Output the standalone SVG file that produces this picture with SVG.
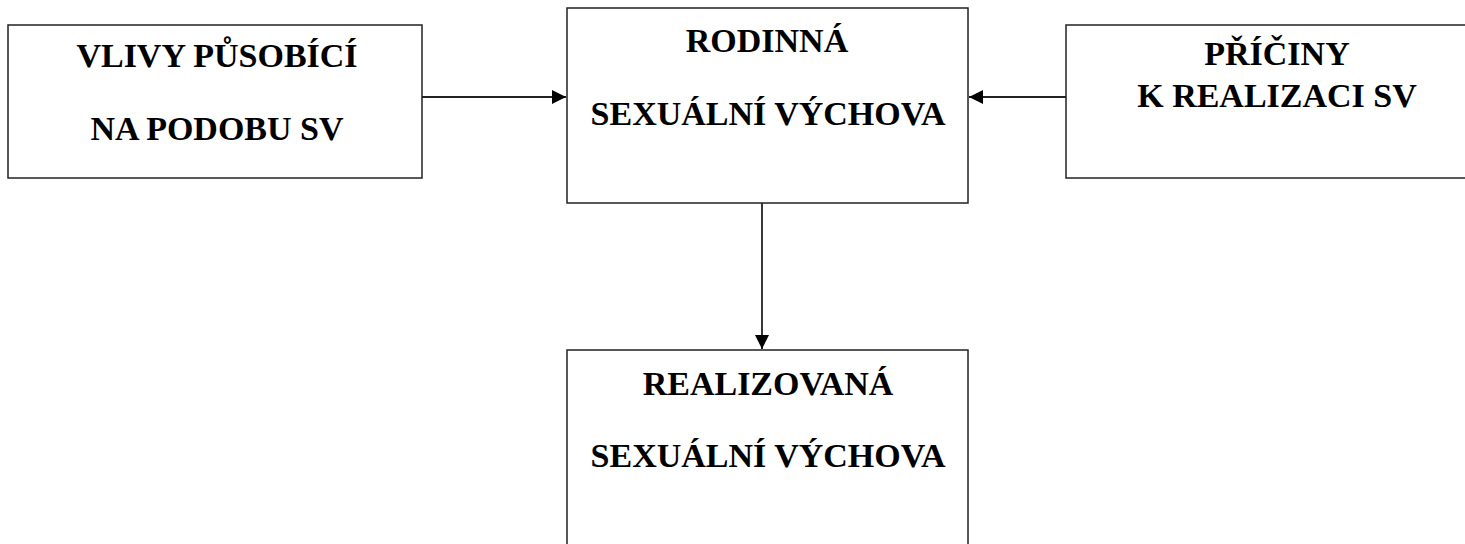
<svg xmlns="http://www.w3.org/2000/svg" width="1465" height="544" viewBox="0 0 1465 544">
<style>
.box{fill:#fff;stroke:#222;stroke-width:1.5}
.t{font-family:"Liberation Serif","Times New Roman",serif;font-weight:bold;font-size:34px;fill:#000;text-anchor:middle}
.c{stroke:#222;stroke-width:1.8;fill:none}
</style>
<defs>
<marker id="ah" viewBox="0 0 10 10" refX="10" refY="5" markerWidth="15" markerHeight="14" markerUnits="userSpaceOnUse" orient="auto">
<path d="M0,0 L10,5 L0,10 Z" fill="#000"/>
</marker>
</defs>
<rect width="1465" height="544" fill="#fff"/>
<g id="n1">
<rect class="box" x="8" y="25" width="414" height="153"/>
<text class="t" x="217" y="67">VLIVY PŮSOBÍCÍ</text>
<text class="t" x="217" y="140">NA PODOBU SV</text>
</g>
<g id="n2">
<rect class="box" x="567" y="8" width="401" height="195"/>
<text class="t" x="767" y="52">RODINNÁ</text>
<text class="t" x="768" y="125">SEXUÁLNÍ VÝCHOVA</text>
</g>
<g id="n3">
<rect class="box" x="1066" y="25" width="410" height="153"/>
<text class="t" x="1277" y="65">PŘÍČINY</text>
<text class="t" x="1277" y="107">K REALIZACI SV</text>
</g>
<g id="n4">
<rect class="box" x="567" y="350" width="401" height="210"/>
<text class="t" x="768" y="395">REALIZOVANÁ</text>
<text class="t" x="768" y="467">SEXUÁLNÍ VÝCHOVA</text>
</g>
<g id="connectors">
<line class="c" x1="422" y1="97" x2="566" y2="97" marker-end="url(#ah)"/>
<line class="c" x1="1066" y1="97" x2="969" y2="97" marker-end="url(#ah)"/>
<line class="c" x1="762" y1="203" x2="762" y2="349" marker-end="url(#ah)"/>
</g>
</svg>
